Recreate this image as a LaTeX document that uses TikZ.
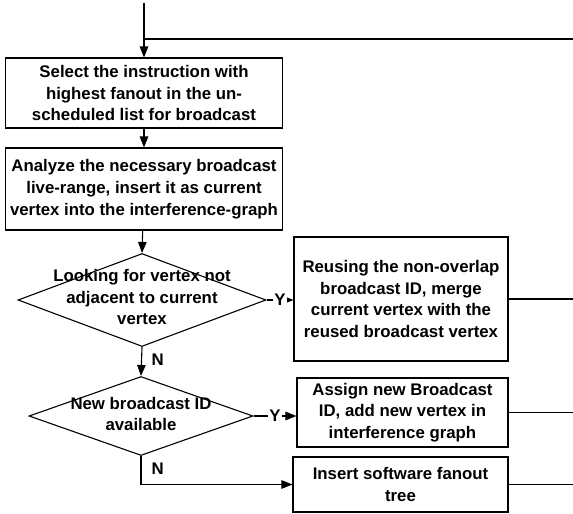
\documentclass[tikz,border=0pt]{standalone}
\usepackage{fontspec}
\setmainfont{Liberation Sans}
\usetikzlibrary{arrows.meta}
\usetikzlibrary{shapes.geometric}

\begin{document}
\begin{tikzpicture}[x=1pt, y=-1pt, line width=1.1pt,
    txt/.style={font=\fontsize{16.8}{21.7}\selectfont\bfseries, align=center, inner sep=0pt},
    procbox/.style={draw, rectangle, txt},
    decision/.style={draw, diamond, inner sep=0pt},
    flow/.style={-{Triangle[length=11pt, width=8.5pt]}},
    tag/.style={font=\fontsize{16.8}{20}\selectfont\bfseries, inner sep=1pt, fill=white}]
      \useasboundingbox (0,0) rectangle (573,514);

      % process boxes
      \node[procbox, minimum width=277, minimum height=70] (select) at (144,93) {Select the instruction with\\highest fanout in the un-\\scheduled list for broadcast};
      \node[procbox, minimum width=277, minimum height=82] (analyze) at (144,189) {Analyze the necessary broadcast\\live-range, insert it as current\\vertex into the interference-graph};
      \node[procbox, minimum width=214, minimum height=124] (reuse) at (401,299) {Reusing the non-overlap\\broadcast ID, merge\\current vertex with the\\reused broadcast vertex};
      \node[procbox, minimum width=211, minimum height=69] (assign) at (402.5,412.5) {Assign new Broadcast\\ID, add new vertex in\\interference graph};
      \node[procbox, minimum width=215, minimum height=55] (insert) at (400.5,484.5) {Insert software fanout\\tree};

      % decisions
      \node[decision, minimum width=248, minimum height=93] (look) at (142,300) {};
      \node[txt] (looktext) at (142,297) {Looking for vertex not\\adjacent to current\\vertex};
      \node[decision, minimum width=224, minimum height=79] (newid) at (141,416) {};
      \node[txt] (newidtext) at (141,414) {New broadcast ID\\available};

      % outside ends
      \coordinate (entry) at (144,3);
      \coordinate (loopin) at (573,39);
      \coordinate (join) at (144,39);
      \coordinate (edge) at (573,0);
      \coordinate (bend) at (newid.south |- insert.west);

      \draw[flow] (entry) -- (select);
      \draw (loopin) -- (join);
      \draw[flow] (select) -- (analyze);
      \draw[flow] (analyze) -- (look.north);
      \draw[flow] (look.east) -- node[tag] (y1) {Y} (reuse.west |- look.east);
      \draw[flow] (look.south) -- (newid.north);
      \node[tag, fill=none, anchor=west] (n1) at (150,360) {N};
      \draw[flow] (newid.east) -- node[tag] (y2) {Y} (assign.west |- newid.east);
      \draw[flow] (newid.south) -- (bend) -- (insert.west);
      \node[tag, fill=none, anchor=west] (n2) at (150,469) {N};

      \draw (reuse.east) -- (reuse.east -| edge);
      \draw (assign.east) -- (assign.east -| edge);
      \draw (insert.east) -- (insert.east -| edge);
    \end{tikzpicture}
\end{document}
